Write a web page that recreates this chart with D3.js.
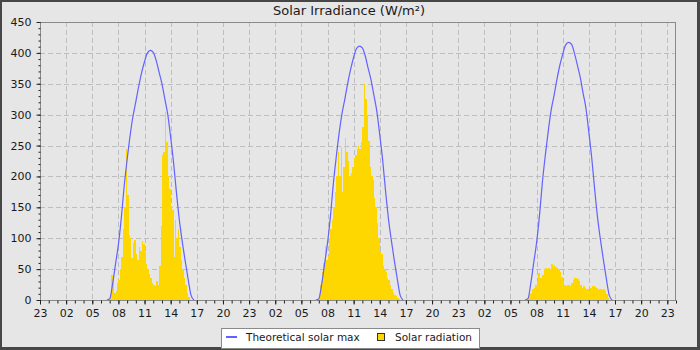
<!DOCTYPE html>
<html><head><meta charset="utf-8">
<script src="https://cdn.jsdelivr.net/npm/d3@7"></script>
<style>
body{margin:0;background:#e6e6e6}
svg{display:block;font-family:"DejaVu Sans",sans-serif}
</style>
</head><body>
<svg id="chart" width="700" height="350"></svg>
<script>
// ---------------- data ----------------
const chartTitle = "Solar Irradiance (W/m\u00b2)";
const seriesNames = ["Theoretical solar max", "Solar radiation"];
const rangeStart = [2024, 0, 1, 23, 0];   // first axis time (23:00)
const rangeEnd   = [2024, 0, 5, 0, 0];    // last axis time
const days = [[2024, 0, 2], [2024, 0, 3], [2024, 0, 4]];
const yTickValues = [0, 50, 100, 150, 200, 250, 300, 350, 400, 450];

// Theoretical solar max: 20-minute samples starting 06:40
const theoStart = [6, 40];
const theoStepMin = 20;
const theoDay1 = [0,2,26,58,90,133,185,227,265,297,321,346,368,386,400,404,401,388,369,350,325,300,263,222,173,129,94,63,34,8,0];
const theoDay2 = [0,2,26,59,92,135,188,231,270,302,326,352,374,393,407,411,408,395,375,356,331,305,267,226,176,131,96,64,35,8,0];
const theoDay3 = [0,2,27,60,93,137,191,234,273,307,331,357,380,398,413,417,414,400,381,361,335,310,271,229,179,133,97,65,35,8,0];

// Solar radiation: 10-minute samples starting 07:00
const radStart = [7, 0];
const radStepMin = 10;
const radDay1 = [8,40,38,12,15,28,32,50,70,115,150,245,170,105,100,68,92,97,75,65,85,80,95,90,78,58,50,42,36,28,25,22,30,25,55,120,235,240,305,255,200,180,150,145,70,130,100,115,85,65,50,35,25,12,5,0];
const radDay2 = [10,25,45,60,88,65,72,100,115,130,150,175,200,240,200,248,175,215,262,240,225,200,205,215,230,235,245,250,245,255,280,350,325,300,258,215,200,195,165,150,125,100,80,75,55,50,45,35,32,25,18,12,8,7,4,2];
const radDay3 = [5,10,12,18,20,25,30,43,35,35,40,50,52,48,52,50,58,55,56,54,52,50,45,38,30,25,22,24,25,23,28,33,36,36,34,30,25,20,22,20,18,17,15,20,22,22,21,19,16,17,18,16,17,15,10,3];

const theoDays = [theoDay1, theoDay2, theoDay3];
const radDays = [radDay1, radDay2, radDay3];

// ---------------- chart ----------------
const svg = d3.select("#chart");
const W = 700, H = 350;
const plot = {left: 40, right: 676, top: 22, bottom: 300};
const gridColor = "#bdbdbd", frameColor = "#8a8a8a";
const lineColor = "#6262ff", barColor = "#ffd700";

const t0 = new Date(...rangeStart), t1 = new Date(...rangeEnd);
const x = d3.scaleTime().domain([t0, t1]).range([plot.left, plot.right]);
const y = d3.scaleLinear().domain([0, 450]).range([plot.bottom, plot.top]);

// background & outer frame
svg.append("rect").attr("width", W).attr("height", H).attr("fill", "#474747");
svg.append("rect").attr("x", 2).attr("y", 2).attr("width", 695).attr("height", 345).attr("fill", "#e6e6e6");

// title
svg.append("text").attr("x", 349).attr("y", 15).attr("text-anchor", "middle")
  .attr("font-size", "13px").attr("fill", "#1a1a1a").text(chartTitle);

const majorTimes = d3.timeHour.range(t0, new Date(+t1 + 1), 3);
const minorTimes = d3.timeHour.range(t0, new Date(+t1 + 1), 1);

// grid
const grid = svg.append("g");
grid.selectAll("line.h").data(yTickValues.filter(v => v > 0 && v < 450)).join("line")
  .attr("x1", plot.left).attr("x2", plot.right)
  .attr("y1", d => Math.round(y(d)) + 0.5).attr("y2", d => Math.round(y(d)) + 0.5)
  .attr("stroke", gridColor).attr("stroke-dasharray", "5,3");
grid.selectAll("line.v").data(majorTimes.filter(d => x(d) > plot.left + 1 && x(d) < plot.right - 1)).join("line")
  .attr("x1", d => Math.round(x(d)) + 0.5).attr("x2", d => Math.round(x(d)) + 0.5)
  .attr("y1", plot.top).attr("y2", plot.bottom)
  .attr("stroke", gridColor).attr("stroke-dasharray", "5,3");

// bars
const bars = [];
radDays.forEach((arr, di) => {
  arr.forEach((v, i) => {
    const t = new Date(days[di][0], days[di][1], days[di][2], radStart[0], radStart[1] + i * radStepMin);
    bars.push({t, v});
  });
});
svg.append("g").attr("shape-rendering", "crispEdges").selectAll("rect").data(bars).join("rect")
  .attr("x", d => Math.round(x(d.t)))
  .attr("width", d => Math.max(1, Math.round(x(d3.timeMinute.offset(d.t, radStepMin))) - Math.round(x(d.t))))
  .attr("y", d => Math.round(y(d.v)))
  .attr("height", d => Math.round(y(0)) - Math.round(y(d.v)))
  .attr("fill", barColor);

// theoretical curve
const line = d3.line().x(d => x(d.t)).y(d => y(d.v)).curve(d3.curveMonotoneX);
theoDays.forEach((arr, di) => {
  const pts = arr.map((v, i) => ({
    t: new Date(days[di][0], days[di][1], days[di][2], theoStart[0], theoStart[1] + i * theoStepMin), v}));
  svg.append("path").datum(pts).attr("d", line)
    .attr("fill", "none").attr("stroke", lineColor).attr("stroke-width", 1.2);
});

// plot frame
svg.append("rect").attr("x", plot.left + 0.5).attr("y", plot.top + 0.5)
  .attr("width", plot.right - plot.left - 1).attr("height", plot.bottom - plot.top)
  .attr("fill", "none").attr("stroke", frameColor);

// axes
function styleAxis(g) {
  g.select(".domain").remove();
  g.selectAll(".tick line").attr("stroke", "#222");
  g.selectAll(".tick text").attr("fill", "#1a1a1a").attr("font-size", "11px")
    .attr("font-family", "DejaVu Sans, sans-serif");
}
svg.append("g").attr("transform", `translate(0,${plot.bottom + 0.5})`)
  .call(d3.axisBottom(x).tickValues(minorTimes).tickSize(3).tickFormat(""))
  .call(styleAxis);
svg.append("g").attr("transform", `translate(0,${plot.bottom + 0.5})`)
  .call(d3.axisBottom(x).tickValues(majorTimes).tickSize(4).tickPadding(5).tickFormat(d3.timeFormat("%H")))
  .call(styleAxis);
svg.append("g").attr("transform", `translate(${plot.left + 0.5},0)`)
  .call(d3.axisLeft(y).tickValues(d3.range(0, 451, 10)).tickSize(2).tickFormat(""))
  .call(styleAxis);
svg.append("g").attr("transform", `translate(${plot.left + 0.5},0)`)
  .call(d3.axisLeft(y).tickValues(yTickValues).tickSize(4).tickPadding(5))
  .call(styleAxis);

// legend
const lg = svg.append("g");
lg.append("rect").attr("x", 221.5).attr("y", 328.5).attr("width", 258).attr("height", 20)
  .attr("fill", "#ffffff").attr("stroke", "#8a8a8a");
lg.append("line").attr("x1", 226).attr("x2", 237).attr("y1", 337).attr("y2", 337)
  .attr("stroke", lineColor).attr("stroke-width", 2);
lg.append("text").attr("x", 246).attr("y", 340.5).attr("font-size", "10.5px")
  .attr("fill", "#1a1a1a").text(seriesNames[0]);
lg.append("rect").attr("x", 377.5).attr("y", 333.5).attr("width", 7).attr("height", 7)
  .attr("fill", barColor).attr("stroke", "#333");
lg.append("text").attr("x", 395).attr("y", 340.5).attr("font-size", "10.5px")
  .attr("fill", "#1a1a1a").text(seriesNames[1]);
</script>
</body></html>
